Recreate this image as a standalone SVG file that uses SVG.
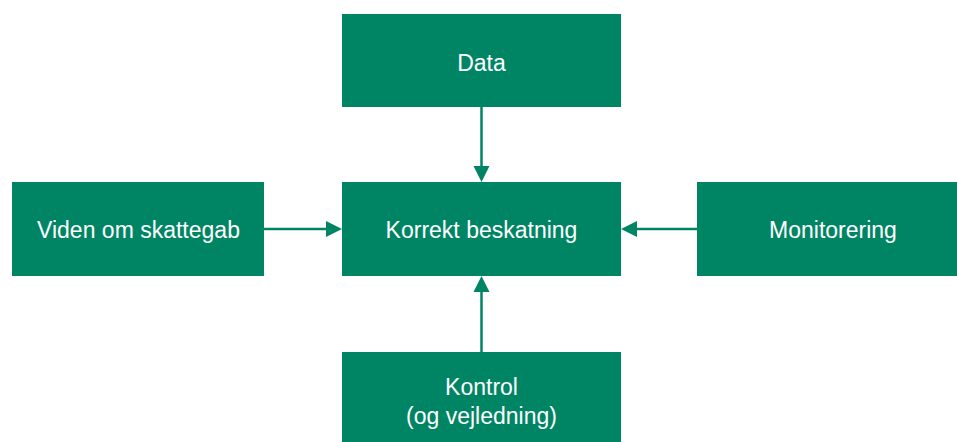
<svg xmlns="http://www.w3.org/2000/svg" width="957" height="442" viewBox="0 0 957 442">
<style>
.box{fill:#008564}
.t{fill:#ffffff;font-family:"Liberation Sans",Arial,sans-serif;font-size:23px;text-anchor:middle}
.c{stroke:#008564;stroke-width:2.5;fill:none}
.h{fill:#008564}
</style>
<rect width="957" height="442" fill="#ffffff"/>
<g id="data"><rect class="box" x="342" y="14" width="279" height="93"/><text class="t" x="481.5" y="71">Data</text></g>
<g id="korrekt"><rect class="box" x="342" y="182" width="279" height="94"/><text class="t" x="481.5" y="238">Korrekt beskatning</text></g>
<g id="viden"><rect class="box" x="12" y="182" width="252" height="94"/><text class="t" x="138.5" y="238">Viden om skattegab</text></g>
<g id="monitorering"><rect class="box" x="697" y="182" width="260" height="94"/><text class="t" x="833" y="238">Monitorering</text></g>
<g id="kontrol"><rect class="box" x="342" y="352" width="279" height="90"/><text class="t" x="481.5" y="395">Kontrol</text><text class="t" x="481.5" y="424">(og vejledning)</text></g>
<g id="connectors">
<line class="c" x1="481.5" y1="107" x2="481.5" y2="167"/><polygon class="h" points="473.5,166 489.5,166 481.5,182"/>
<line class="c" x1="264" y1="229" x2="327" y2="229"/><polygon class="h" points="326,221 326,237 342,229"/>
<line class="c" x1="697" y1="229" x2="636" y2="229"/><polygon class="h" points="637,221 637,237 621,229"/>
<line class="c" x1="481.5" y1="352" x2="481.5" y2="291"/><polygon class="h" points="473.5,292 489.5,292 481.5,276"/>
</g>
</svg>
